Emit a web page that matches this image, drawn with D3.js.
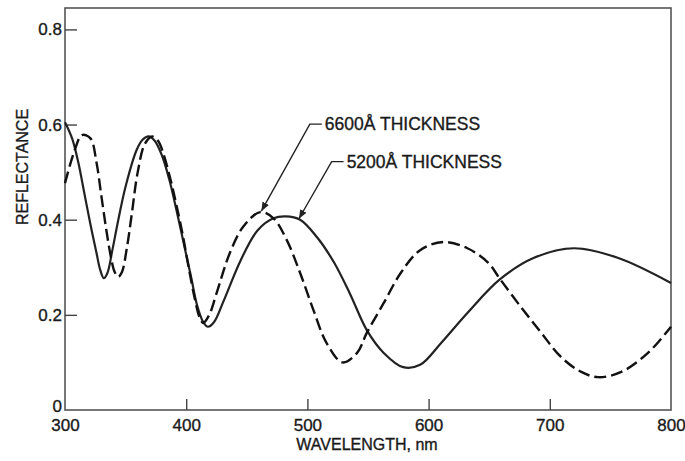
<!DOCTYPE html>
<html>
<head>
<meta charset="utf-8">
<script src="https://cdn.jsdelivr.net/npm/d3@7"></script>
<style>
  body { margin: 0; background: #fff; }
  text { font-family: "Liberation Sans", Arial, Helvetica, sans-serif; fill: #1a1a1a; stroke: #1a1a1a; stroke-width: 0.35px; }
</style>
</head>
<body>
<div id="container"></div>
<script>
// values (wavelength in nm, reflectance)
const wl5200 = [300, 306, 311, 316, 321, 326, 329, 332, 335, 339, 344, 350, 359, 364, 369, 374, 380, 386, 392, 398, 404, 409, 414, 418, 423, 431, 445, 459, 472, 482, 494, 508, 522, 535, 549, 563, 579, 593, 610, 632, 659, 687, 720, 756, 800];
const r5200  = [0.605, 0.57, 0.52, 0.455, 0.39, 0.33, 0.295, 0.277, 0.288, 0.335, 0.40, 0.47, 0.546, 0.568, 0.575, 0.566, 0.535, 0.485, 0.42, 0.35, 0.28, 0.22, 0.185, 0.175, 0.185, 0.23, 0.315, 0.378, 0.403, 0.407, 0.40, 0.363, 0.31, 0.245, 0.168, 0.12, 0.09, 0.095, 0.14, 0.204, 0.275, 0.32, 0.34, 0.32, 0.267];

const wl6600 = [300, 308, 314, 321, 326, 330, 334, 338, 341, 344, 347, 351, 355, 360, 366, 372, 377, 381, 387, 392, 397, 402, 407, 411, 414, 419, 425, 436, 447, 461, 472, 483, 494, 505, 516, 529, 541, 549, 563, 577, 593, 612, 632, 649, 659, 676, 693, 709, 726, 740, 759, 781, 800];
const r6600  = [0.477, 0.546, 0.578, 0.571, 0.52, 0.45, 0.38, 0.32, 0.29, 0.28, 0.29, 0.34, 0.41, 0.50, 0.56, 0.575, 0.565, 0.54, 0.485, 0.43, 0.37, 0.30, 0.235, 0.195, 0.183, 0.20, 0.245, 0.33, 0.385, 0.416, 0.403, 0.357, 0.288, 0.21, 0.14, 0.10, 0.12, 0.162, 0.225, 0.288, 0.336, 0.353, 0.34, 0.31, 0.275, 0.217, 0.162, 0.112, 0.08, 0.069, 0.08, 0.12, 0.175];

const xTicks = [300, 400, 500, 600, 700, 800];
const yTicks = [0, 0.2, 0.4, 0.6, 0.8];

// annotations: label, arrow tip and elbow in data units
const notes = [
  {label: "6600Å THICKNESS", tip: [462, 0.418], elbow: [502, 0.601]},
  {label: "5200Å THICKNESS", tip: [493, 0.402], elbow: [520, 0.522]}
];

const W = 685, H = 461;
const svg = d3.select("#container").append("svg")
  .attr("width", W).attr("height", H);

const x = d3.scaleLinear().domain([300, 800]).range([65, 671]);
const y = d3.scaleLinear().domain([0, 0.845]).range([410, 8]);

svg.append("defs").append("marker")
  .attr("id", "arr")
  .attr("viewBox", "0 0 10 10")
  .attr("refX", 10).attr("refY", 5)
  .attr("markerWidth", 9).attr("markerHeight", 9)
  .attr("markerUnits", "userSpaceOnUse")
  .attr("orient", "auto")
  .append("path").attr("d", "M0,1 L10,5 L0,9 Z").attr("fill", "#222");

// frame
svg.append("rect")
  .attr("x", x(300)).attr("y", y(0.845))
  .attr("width", x(800) - x(300)).attr("height", y(0) - y(0.845))
  .attr("fill", "none").attr("stroke", "#555").attr("stroke-width", 1.6);

// axes with inward ticks
const xAxis = svg.append("g")
  .attr("transform", `translate(0,${y(0)})`)
  .call(d3.axisBottom(x).tickValues(xTicks).tickSizeInner(-11).tickSizeOuter(0).tickPadding(9).tickFormat(d3.format("d")));
xAxis.select(".domain").remove();
xAxis.selectAll("line").attr("stroke", "#444").attr("stroke-width", 1.4)
  .filter(d => d == 300 || d == 800).remove();
xAxis.selectAll("text").style("font-size", "17px").attr("fill", "#1a1a1a");

const yAxis = svg.append("g")
  .attr("transform", `translate(${x(300)},0)`)
  .call(d3.axisLeft(y).tickValues(yTicks).tickSizeInner(-12).tickSizeOuter(0).tickPadding(3).tickFormat(d => d == 0 ? "0" : d3.format(".1f")(d)));
yAxis.select(".domain").remove();
yAxis.selectAll("line").attr("stroke", "#444").attr("stroke-width", 1.4)
  .filter(d => d == 0).remove();
yAxis.selectAll("text").style("font-size", "17px").attr("fill", "#1a1a1a");
yAxis.selectAll("text").filter(d => d == 0).attr("dy", "0.1em");

// axis titles
svg.append("text")
  .attr("x", 367).attr("y", 450)
  .attr("text-anchor", "middle")
  .style("font-size", "16px")
  .text("WAVELENGTH, nm");

svg.append("text")
  .attr("transform", "translate(28,167) rotate(-90)")
  .attr("text-anchor", "middle")
  .style("font-size", "16px")
  .text("REFLECTANCE");

// curves
const line = d3.line()
  .x(d => x(d[0])).y(d => y(d[1]))
  .curve(d3.curveCatmullRom.alpha(0.5));

svg.append("path")
  .datum(wl5200.map((w, i) => [w, r5200[i]]))
  .attr("d", line)
  .attr("fill", "none").attr("stroke", "#222").attr("stroke-width", 2.2);

svg.append("path")
  .datum(wl6600.map((w, i) => [w, r6600[i]]))
  .attr("d", line)
  .attr("fill", "none").attr("stroke", "#111").attr("stroke-width", 2.4)
  .attr("stroke-dasharray", "12,5");

// leader lines and labels
notes.forEach(n => {
  const ex = x(n.elbow[0]), ey = y(n.elbow[1]);
  svg.append("path")
    .attr("d", `M${ex + 12},${ey} L${ex},${ey} L${x(n.tip[0])},${y(n.tip[1])}`)
    .attr("fill", "none").attr("stroke", "#222").attr("stroke-width", 1.4)
    .attr("marker-end", "url(#arr)");
  svg.append("text")
    .attr("x", ex + 15).attr("y", ey + 6)
    .style("font-size", "17.5px")
    .text(n.label);
});
</script>
</body>
</html>
